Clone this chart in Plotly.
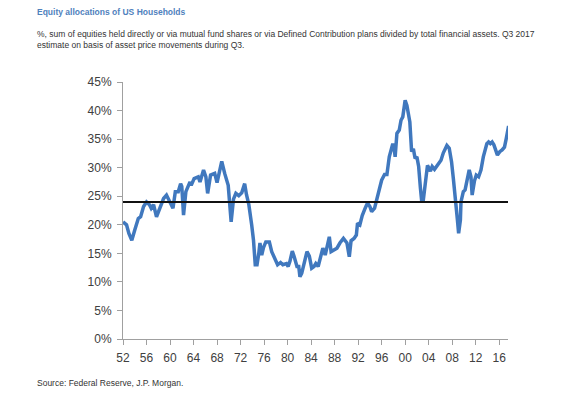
import plotly.graph_objects as go

years = [1952.0, 1952.6, 1953.0, 1953.5, 1954.0, 1954.6, 1955.0, 1955.5, 1956.0, 1956.5,
         1956.8, 1957.2, 1957.7, 1958.3, 1958.9, 1959.4, 1960.0, 1960.5, 1960.9, 1961.4,
         1961.8, 1962.0, 1962.3, 1962.7, 1963.4, 1963.6, 1964.1, 1964.8, 1965.1, 1965.7,
         1966.1, 1966.4, 1966.9, 1967.6, 1968.0, 1968.4, 1968.8, 1969.3, 1969.9, 1970.4,
         1970.8, 1971.2, 1971.7, 1972.2, 1972.7, 1973.0, 1973.4, 1973.9, 1974.2, 1974.5,
         1974.8, 1975.1, 1975.3, 1975.6, 1975.9, 1976.3, 1976.9, 1977.3, 1977.9, 1978.3,
         1978.8, 1979.2, 1979.8, 1980.1, 1980.4, 1980.8, 1981.1, 1981.6, 1981.9, 1982.1,
         1982.4, 1982.8, 1983.3, 1983.7, 1984.1, 1984.5, 1984.8, 1985.2, 1985.6, 1986.0,
         1986.4, 1986.8, 1987.1, 1987.4, 1988.0, 1988.4, 1988.9, 1989.5, 1990.1, 1990.5,
         1990.8, 1991.3, 1991.7, 1991.9, 1992.3, 1992.7, 1993.2, 1993.6, 1994.0, 1994.3,
         1994.8, 1995.4, 1996.0, 1996.5, 1996.9, 1997.3, 1997.6, 1997.9, 1998.2, 1998.3,
         1998.6, 1999.0, 1999.3, 1999.6, 2000.0, 2000.3, 2000.8, 2001.1, 2001.4, 2001.7,
         2002.0, 2002.3, 2002.6, 2002.8, 2003.1, 2003.4, 2003.8, 2004.3, 2004.6, 2005.0,
         2005.5, 2006.1, 2006.5, 2007.1, 2007.5, 2007.9, 2008.2, 2008.7, 2008.9, 2009.1,
         2009.4, 2009.5, 2009.9, 2010.2, 2010.5, 2010.7, 2010.9, 2011.2, 2011.4, 2011.8,
         2012.1, 2012.5, 2012.9, 2013.3, 2013.9, 2014.2, 2014.5, 2014.8, 2015.1, 2015.7,
         2016.1, 2016.5, 2016.9, 2017.2, 2017.6]

equity_share = [20.5, 20.0, 18.5, 17.3, 19.1, 21.1, 21.4, 23.2, 24.0, 23.5,
                22.9, 23.5, 21.4, 22.9, 24.6, 25.2, 24.0, 22.9, 25.8, 25.8,
                27.2, 26.7, 21.7, 25.8, 27.5, 26.9, 28.1, 28.4, 27.5, 29.6,
                28.4, 25.5, 28.7, 29.0, 27.4, 29.0, 31.1, 29.0, 26.9, 20.5,
                24.5, 25.5, 25.1, 25.6, 27.2, 25.3, 23.6, 19.9, 17.3, 13.0,
                13.0, 15.0, 16.8, 14.7, 16.0, 17.0, 17.0, 15.3, 14.1, 13.0,
                13.4, 13.0, 13.2, 12.7, 13.6, 15.4, 14.5, 12.7, 12.7, 10.9,
                11.5, 13.4, 15.3, 14.5, 12.4, 12.7, 13.2, 12.7, 14.1, 15.9,
                14.7, 16.2, 17.9, 15.3, 15.6, 15.9, 16.8, 17.6, 16.8, 14.4,
                17.2, 17.6, 18.2, 20.3, 20.0, 21.6, 22.9, 23.8, 23.2, 22.3,
                22.9, 25.2, 27.8, 28.8, 28.8, 31.9, 33.4, 34.2, 32.8, 31.9,
                36.0, 36.6, 38.3, 38.9, 41.8, 40.9, 38.0, 32.8, 33.3, 31.6,
                31.9, 30.2, 26.4, 24.3, 24.4, 27.5, 30.4, 29.4, 30.2, 29.7,
                30.4, 31.3, 32.6, 33.9, 33.4, 31.0, 28.1, 23.8, 20.8, 18.5,
                20.8, 24.0, 25.8, 26.1, 27.5, 28.4, 29.6, 28.4, 25.2, 27.7,
                28.7, 28.4, 29.6, 31.9, 34.2, 34.5, 34.2, 34.5, 34.0, 32.2,
                32.8, 33.1, 33.6, 35.1, 37.3]

long_run_average = 24.0

x_tick_values = [1952, 1956, 1960, 1964, 1968, 1972, 1976, 1980, 1984, 1988,
                 1992, 1996, 2000, 2004, 2008, 2012, 2016]
x_tick_labels = ["52", "56", "60", "64", "68", "72", "76", "80", "84", "88",
                 "92", "96", "00", "04", "08", "12", "16"]
y_tick_values = [0, 5, 10, 15, 20, 25, 30, 35, 40, 45]
y_tick_labels = ["0%", "5%", "10%", "15%", "20%", "25%", "30%", "35%", "40%", "45%"]

FONT = "Arial, Liberation Sans, sans-serif"

fig = go.Figure()
fig.add_trace(go.Scatter(
    x=years, y=equity_share, mode="lines",
    line=dict(color="#4078BE", width=3.5),
    hoverinfo="skip", showlegend=False,
))

fig.add_shape(type="line", xref="paper", yref="y", x0=0, x1=1,
              y0=long_run_average, y1=long_run_average,
              line=dict(color="#111111", width=2))

fig.update_layout(
    width=562, height=390,
    margin=dict(l=115, r=62, t=74, b=59),
    paper_bgcolor="white", plot_bgcolor="white",
    font=dict(family=FONT, color="#333333"),
    xaxis=dict(
        range=[1952, 2017.5], tickmode="array",
        tickvals=x_tick_values, ticktext=x_tick_labels,
        showgrid=False, zeroline=False,
        showline=True, linecolor="#a0a0a0", linewidth=1,
        ticks="outside", ticklen=5, tickcolor="#a0a0a0",
        ticklabelstandoff=3,
        tickfont=dict(size=12, color="#404040", family=FONT),
    ),
    yaxis=dict(
        range=[0, 45], tickmode="array",
        tickvals=y_tick_values, ticktext=y_tick_labels,
        showgrid=False, zeroline=False,
        showline=True, linecolor="#a0a0a0", linewidth=1,
        ticks="outside", ticklen=5, tickcolor="#a0a0a0",
        ticklabelstandoff=3,
        tickfont=dict(size=12, color="#404040", family=FONT),
    ),
    annotations=[
        dict(text="<b>Equity allocations of US Households</b>",
             xref="paper", yref="paper", x=-88/385, y=1 + 70/257,
             xanchor="left", yanchor="middle", showarrow=False,
             font=dict(size=8.5, color="#4F81BD", family=FONT)),
        dict(text="%, sum of equities held directly or via mutual fund shares or via Defined Contribution plans divided by total financial assets. Q3 2017<br>estimate on basis of asset price movements during Q3.",
             xref="paper", yref="paper", x=-88/385, y=1 + 42/257,
             xanchor="left", yanchor="middle", align="left", showarrow=False,
             font=dict(size=8.5, color="#333333", family=FONT)),
        dict(text="Source: Federal Reserve, J.P. Morgan.",
             xref="paper", yref="paper", x=-88/385, y=-44/257,
             xanchor="left", yanchor="middle", showarrow=False,
             font=dict(size=8.5, color="#333333", family=FONT)),
    ],
)

fig.write_html("out.html")
